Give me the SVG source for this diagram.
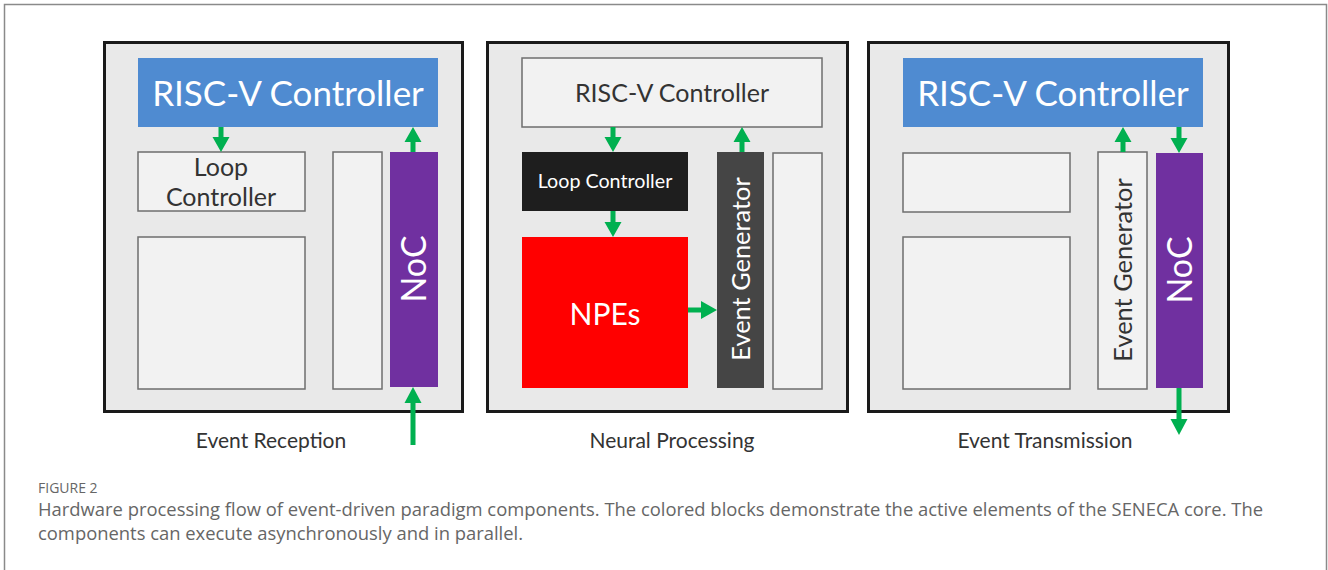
<svg xmlns="http://www.w3.org/2000/svg" width="1328" height="570" viewBox="0 0 1328 570">
  <style>
    .panel { fill: #e9e9e9; stroke: #1a1a1a; stroke-width: 3; }
    .blank { fill: #f2f2f2; stroke: #6e6e6e; stroke-width: 1.5; }
    .blue { fill: #4f8bd1; }
    .noc { fill: #7030a0; }
    .arrow { fill: #00b050; }
    .t { font-family: "Lato", "Open Sans", "Liberation Sans", sans-serif; }
    .w { fill: #ffffff; }
    .d { fill: #333333; }
    .big { font-size: 35px; }
    .lbl { font-size: 21px; fill: #333333; }
    .cap { font-family: "Open Sans", "Liberation Sans", sans-serif; fill: #666666; }
  </style>

  <!-- figure frame -->
  <rect x="4.5" y="4.5" width="1322" height="580" fill="#ffffff" stroke="#8a8a8a" stroke-width="1.5"/>

  <!-- Panel 1: Event Reception -->
  <g id="panel-reception">
    <rect class="panel" x="104.5" y="42.5" width="358" height="369"/>
    <text class="t lbl" x="271" y="448" text-anchor="middle">Event Reception</text>
  </g>
  <g id="rx-riscv">
    <rect class="blue" x="138" y="58" width="300" height="69"/>
    <text class="t w big" x="288" y="106" text-anchor="middle">RISC-V Controller</text>
  </g>
  <g id="rx-loop">
    <rect class="blank" x="138" y="152" width="167" height="59"/>
    <text class="t d" font-size="25" x="221" y="176" text-anchor="middle">Loop</text>
    <text class="t d" font-size="25" x="221" y="206" text-anchor="middle">Controller</text>
  </g>
  <g id="rx-npes">
    <rect class="blank" x="138" y="237" width="167" height="152"/>
  </g>
  <g id="rx-eventgen">
    <rect class="blank" x="333" y="152" width="49" height="237"/>
  </g>
  <g id="rx-noc">
    <rect class="noc" x="390" y="152" width="48" height="235"/>
    <text class="t w" font-size="34" transform="translate(426 269) rotate(-90)" text-anchor="middle">NoC</text>
  </g>

  <!-- Panel 2: Neural Processing -->
  <g id="panel-processing">
    <rect class="panel" x="487.5" y="42.5" width="360" height="369"/>
    <text class="t lbl" x="672" y="448" text-anchor="middle">Neural Processing</text>
  </g>
  <g id="np-riscv">
    <rect class="blank" x="522" y="58" width="300" height="69"/>
    <text class="t d" font-size="25" x="672" y="102" text-anchor="middle">RISC-V Controller</text>
  </g>
  <g id="np-loop">
    <rect x="522" y="152" width="166" height="59" fill="#1e1e1e"/>
    <text class="t w" font-size="19.7" x="605" y="188" text-anchor="middle">Loop Controller</text>
  </g>
  <g id="np-npes">
    <rect x="522" y="237" width="166" height="151" fill="#ff0000"/>
    <text class="t w" font-size="30" x="605" y="325" text-anchor="middle">NPEs</text>
  </g>
  <g id="np-eventgen">
    <rect x="717" y="152" width="47" height="236" fill="#454545"/>
    <text class="t w" font-size="25.4" transform="translate(750 269) rotate(-90)" text-anchor="middle">Event Generator</text>
  </g>
  <g id="np-noc">
    <rect class="blank" x="773" y="153" width="49" height="236"/>
  </g>

  <!-- Panel 3: Event Transmission -->
  <g id="panel-transmission">
    <rect class="panel" x="868.5" y="42.5" width="360" height="369"/>
    <text class="t lbl" x="1045" y="448" text-anchor="middle">Event Transmission</text>
  </g>
  <g id="tx-riscv">
    <rect class="blue" x="903" y="58" width="300" height="69"/>
    <text class="t w big" x="1053" y="106" text-anchor="middle">RISC-V Controller</text>
  </g>
  <g id="tx-loop">
    <rect class="blank" x="903" y="153" width="167" height="59"/>
  </g>
  <g id="tx-npes">
    <rect class="blank" x="903" y="237" width="167" height="152"/>
  </g>
  <g id="tx-eventgen">
    <rect class="blank" x="1098" y="152" width="49" height="237"/>
    <text class="t d" font-size="25.4" transform="translate(1132 270) rotate(-90)" text-anchor="middle">Event Generator</text>
  </g>
  <g id="tx-noc">
    <rect class="noc" x="1156" y="153" width="47" height="235"/>
    <text class="t w" font-size="34" transform="translate(1192 270) rotate(-90)" text-anchor="middle">NoC</text>
  </g>

  <!-- connectors: block arrows, 5px shaft, 17px head -->
  <g id="connectors" class="arrow">
    <!-- reception: RISC-V -> Loop Controller -->
    <path d="M218.5,127 V137 H212.5 L221,152 L229.5,137 H223.5 V127 Z"/>
    <!-- reception: NoC -> RISC-V -->
    <path d="M410.5,152 V142 H404.5 L413,127 L421.5,142 H415.5 V152 Z"/>
    <!-- reception: incoming event -> NoC -->
    <path d="M410.5,445 V403 H404.5 L413,387 L421.5,403 H415.5 V445 Z"/>

    <!-- processing: RISC-V -> Loop Controller -->
    <path d="M610.5,127 V137 H604.5 L613,152 L621.5,137 H615.5 V127 Z"/>
    <!-- processing: Loop Controller -> NPEs -->
    <path d="M610.5,211 V222 H604.5 L613,237 L621.5,222 H615.5 V211 Z"/>
    <!-- processing: Event Generator -> RISC-V -->
    <path d="M739.5,152 V142 H733.5 L742,127 L750.5,142 H744.5 V152 Z"/>
    <!-- processing: NPEs -> Event Generator -->
    <path d="M688,307.5 H701 V301 L717,310 L701,319 V312.5 H688 Z"/>

    <!-- transmission: Event Generator -> RISC-V -->
    <path d="M1120.5,152 V142 H1114.5 L1123,127 L1131.5,142 H1125.5 V152 Z"/>
    <!-- transmission: RISC-V -> NoC -->
    <path d="M1176.5,127 V138 H1170.5 L1179,153 L1187.5,138 H1181.5 V127 Z"/>
    <!-- transmission: NoC -> outgoing event -->
    <path d="M1176.5,388 V419 H1170.5 L1179,435 L1187.5,419 H1181.5 V388 Z"/>
  </g>

  <!-- caption -->
  <text class="cap" x="38" y="493" font-size="14">FIGURE 2</text>
  <text class="cap" x="38" y="516" font-size="18.4" textLength="1225" lengthAdjust="spacingAndGlyphs">Hardware processing flow of event-driven paradigm components. The colored blocks demonstrate the active elements of the SENECA core. The</text>
  <text class="cap" x="38" y="540" font-size="18.4">components can execute asynchronously and in parallel.</text>
</svg>
